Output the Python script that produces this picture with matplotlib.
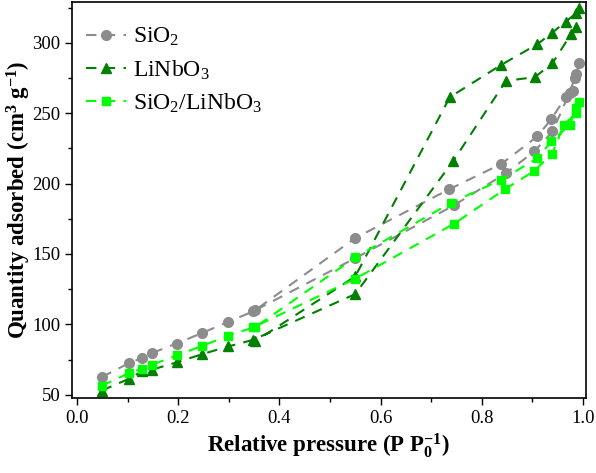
import matplotlib
matplotlib.use("Agg")
from matplotlib import pyplot as plt
from matplotlib.ticker import MultipleLocator

# adsorption branch followed by desorption branch, in measuring order
sio2_p = [0.049, 0.103, 0.128, 0.148, 0.197, 0.248, 0.299, 0.348, 0.55, 0.745, 0.848, 0.904, 0.94, 0.974, 0.984, 0.993,
          0.986, 0.98, 0.966, 0.938, 0.91, 0.839, 0.736, 0.55, 0.352]
sio2_q = [62.6, 72.5, 76.0, 79.6, 86.4, 94.0, 101.8, 109.2, 147.0, 184.5, 207.4, 222.8, 237.0, 264.7, 275.0, 285.5,
          278.0, 266.0, 261.4, 246.0, 233.5, 214.0, 196.0, 161.3, 110.0]

lnb_p = [0.049, 0.103, 0.128, 0.148, 0.197, 0.248, 0.299, 0.348, 0.55, 0.744, 0.848, 0.905, 0.94, 0.977, 0.987, 0.993,
         0.987, 0.966, 0.94, 0.91, 0.839, 0.737, 0.55, 0.352]
lnb_q = [53.0, 61.4, 66.6, 67.8, 73.0, 78.9, 84.3, 89.0, 121.5, 216.2, 273.0, 275.6, 285.5, 306.4, 311.0, 324.6,
         321.0, 315.0, 307.3, 299.0, 284.4, 261.4, 134.0, 88.0]

mix_p = [0.049, 0.103, 0.128, 0.148, 0.197, 0.248, 0.299, 0.348, 0.55, 0.745, 0.846, 0.904, 0.939, 0.963, 0.986, 0.993,
         0.987, 0.974, 0.938, 0.91, 0.839, 0.74, 0.55, 0.352]
mix_q = [56.4, 65.4, 68.5, 71.3, 77.9, 84.8, 91.9, 97.8, 132.4, 171.4, 196.0, 209.0, 221.0, 241.8, 250.0, 258.3,
         253.6, 241.8, 230.0, 218.0, 202.7, 186.5, 147.5, 98.0]

plt.rcParams['font.family'] = ['Liberation Serif', 'DejaVu Serif']
plt.rcParams['mathtext.fontset'] = 'custom'
plt.rcParams['mathtext.rm'] = 'Liberation Serif'
plt.rcParams['mathtext.it'] = 'Liberation Serif:italic'
plt.rcParams['mathtext.bf'] = 'Liberation Serif:bold'

fig = plt.figure(figsize=(5.96, 4.73), dpi=100)
ax = fig.add_axes([0.1208, 0.1586, 0.8622, 0.8372])

ax.plot(sio2_p, sio2_q, ls='--', color='#8c8c8c', marker='o', ms=7, lw=1.5, dashes=(5, 4), label='SiO$_2$')
ax.plot(lnb_p, lnb_q, ls='--', color='#008000', marker='^', ms=7, lw=1.5, dashes=(5, 4), label='LiNbO$_3$')
ax.plot(mix_p, mix_q, ls='--', color='#00ff00', marker='s', ms=6, lw=1.5, dashes=(5, 4), label='SiO$_2$/LiNbO$_3$')

ax.set_xlim(-0.01, 1.006)
ax.set_ylim(47.7, 329)
ax.xaxis.set_major_locator(MultipleLocator(0.2))
ax.xaxis.set_minor_locator(MultipleLocator(0.1))
ax.yaxis.set_major_locator(MultipleLocator(50))
ax.yaxis.set_minor_locator(MultipleLocator(25))
ax.xaxis.set_major_formatter(matplotlib.ticker.FormatStrFormatter('%.1f'))
ax.tick_params(which='major', direction='out', length=5, width=1, labelsize=13.5)
ax.tick_params(which='minor', direction='out', length=3, width=1)
for s in ax.spines.values():
    s.set_linewidth(1.2)

ax.set_xlabel(r'Relative pressure (P P$_\mathbf{0}^\mathbf{-1}$)', fontsize=16.5, fontweight='bold', labelpad=3)
ax.set_ylabel(r'Quantity adsorbed (cm$^\mathbf{3}$ g$^\mathbf{-1}$)', fontsize=16.5, fontweight='bold', labelpad=-1)

ax.legend(loc='upper left', bbox_to_anchor=(0, 0.975), frameon=False, fontsize=17, handlelength=1.7,
          borderaxespad=0.25, borderpad=0.35, labelspacing=0.42, handletextpad=0.3)

fig.savefig('out.png', dpi=100)
